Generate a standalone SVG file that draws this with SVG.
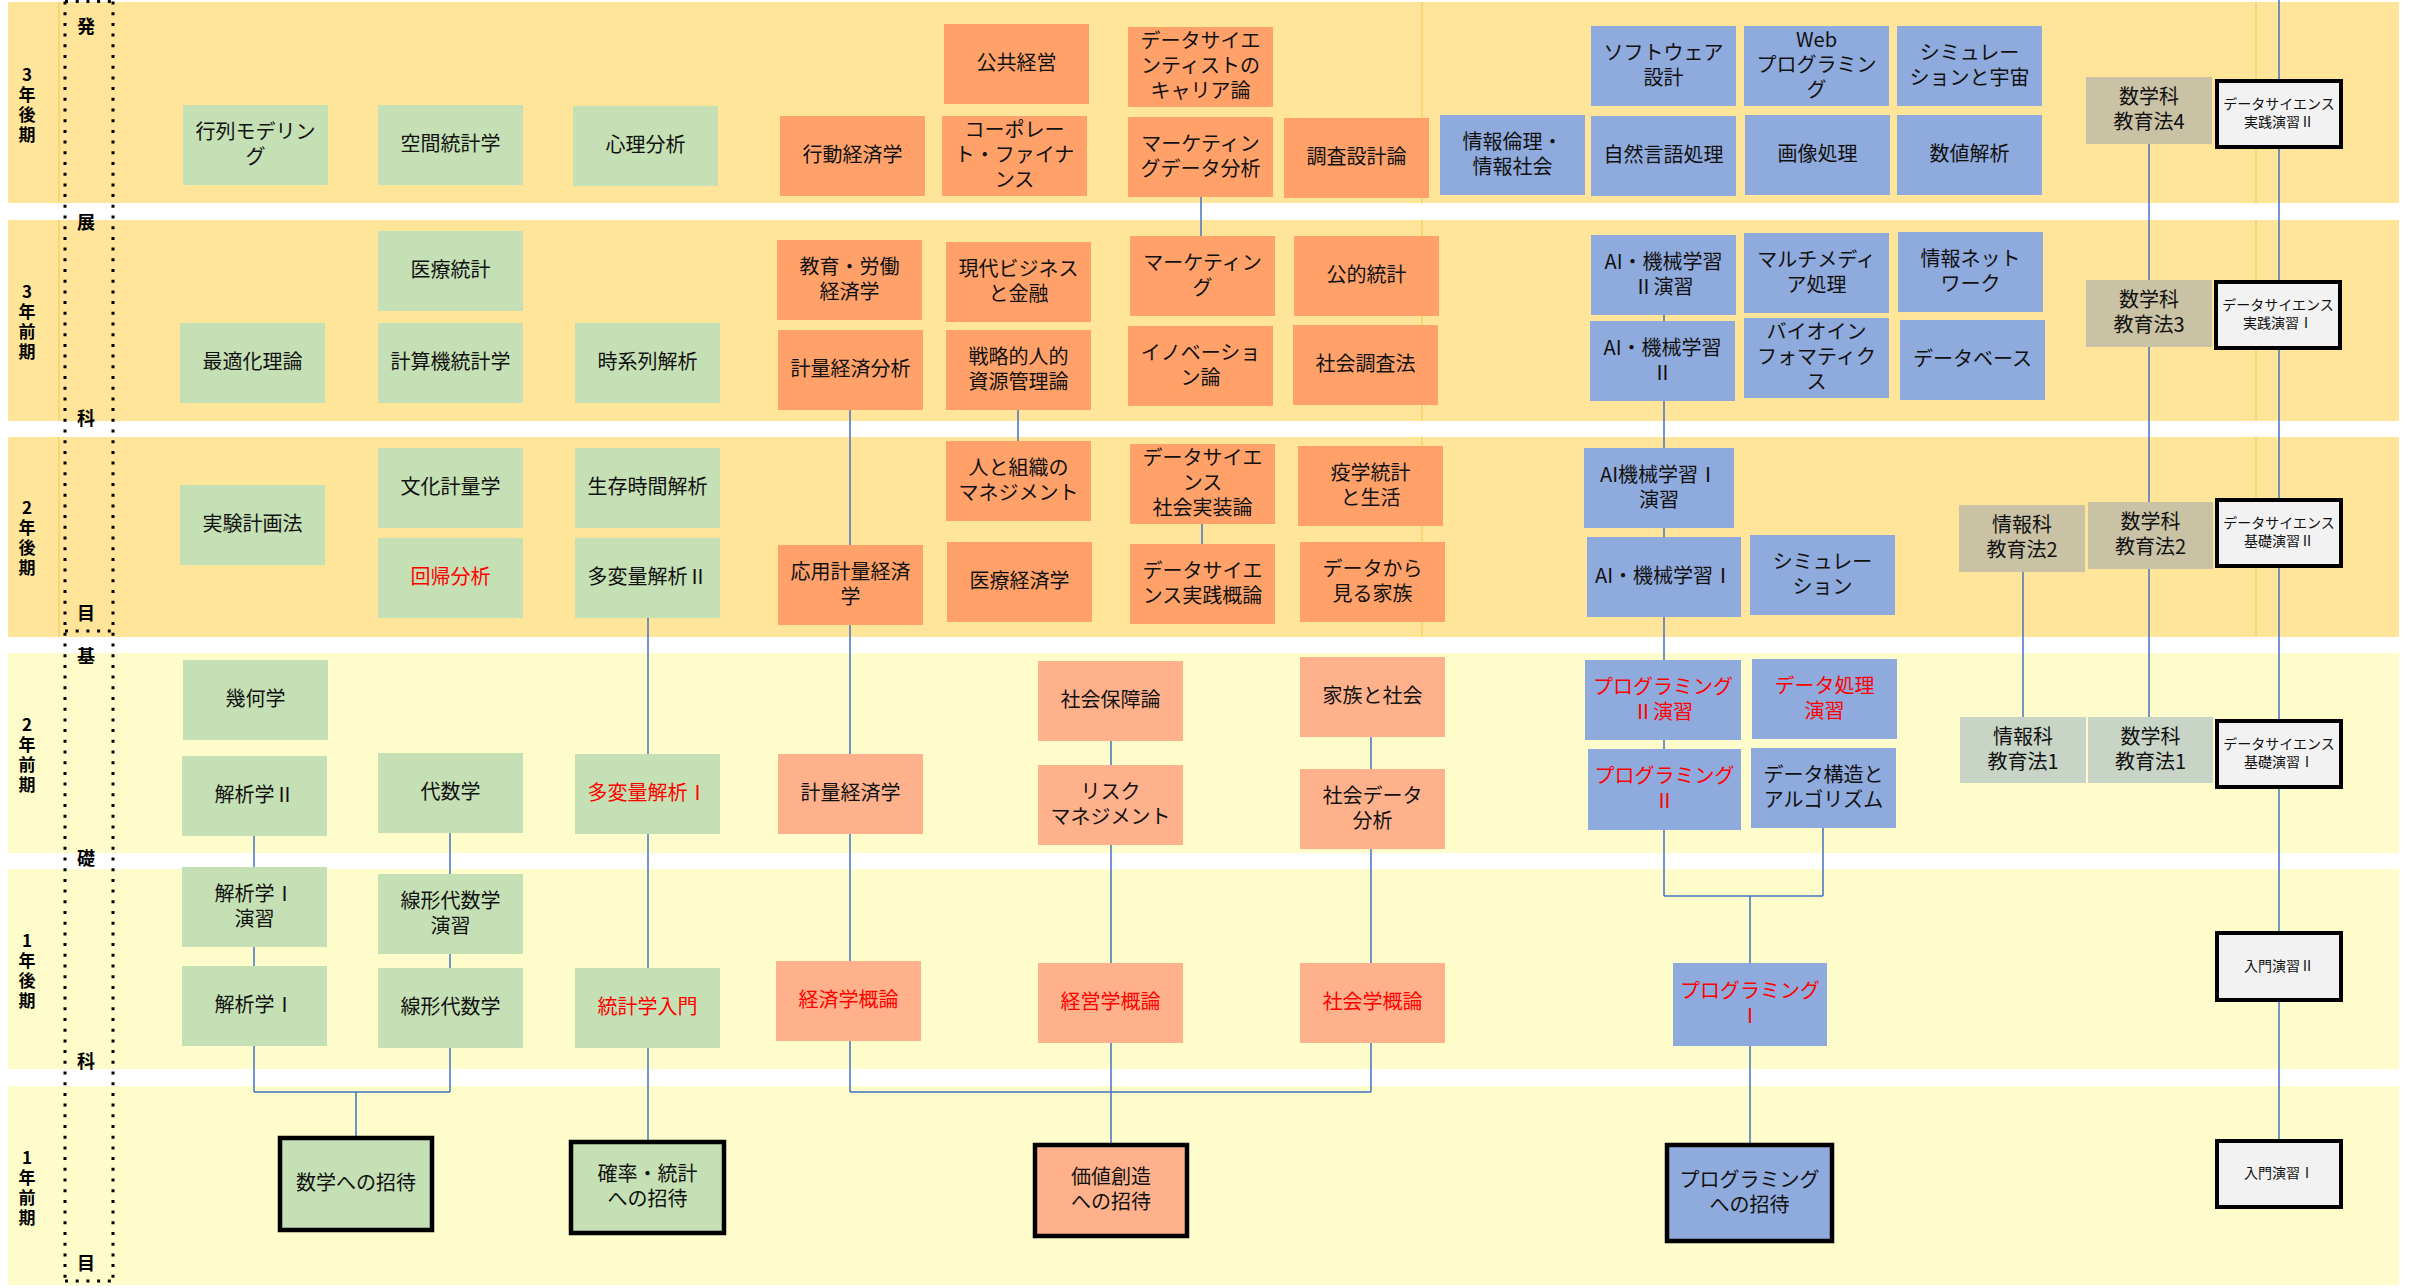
<svg xmlns="http://www.w3.org/2000/svg" width="2409" height="1288" viewBox="0 0 2409 1288">
<style>
.bu{fill:#FFE599}.bl{fill:#FFFCCB}
.fl{stroke:#F5CC5C;stroke-width:1.2}
.g{fill:#C5E0B4}.o{fill:#FFA169}.o2{fill:#FFB18C}.b{fill:#8FAADC}.t{fill:#C9C2A5}.t2{fill:#C8D4C6}
.ds{fill:#F2F2F2;stroke:#000;stroke-width:4}
.inv{stroke:#000;stroke-width:4.5}
text{font-family:"Noto Sans CJK JP","Noto Sans",sans-serif;dominant-baseline:central;text-anchor:middle}
.n{font-size:20px;fill:#111}
.r{fill:#FF0000}
.s{font-size:14px;fill:#111}
.yl{font-size:17px;font-weight:bold;fill:#000;writing-mode:vertical-rl;text-orientation:upright;letter-spacing:3px}
.cl{font-size:18px;font-weight:bold;fill:#000}
.dot{stroke:#000;stroke-width:3;stroke-dasharray:3 7.7;fill:none}
.c{stroke:#4472C4;stroke-width:1.5;fill:none}
</style>
<rect width="2409" height="1288" fill="#FFFFFF"/>
<g id="bands">
<rect class="bu" x="8" y="2" width="2391" height="201"/>
<rect class="bu" x="8" y="220" width="2391" height="201"/>
<rect class="bu" x="8" y="437" width="2391" height="200"/>
<rect class="bl" x="8" y="653" width="2391" height="200"/>
<rect class="bl" x="8" y="869" width="2391" height="200"/>
<rect class="bl" x="8" y="1086" width="2391" height="199"/>
<path class="fl" d="M59 2V203M59 220V421M59 437V637M1422 2V203M1422 220V421M1422 437V637M2256 2V203M2256 220V421M2256 437V637"/>
</g>
<g id="labels">
<text class="yl" x="27" y="106">3年後期</text>
<text class="yl" x="27" y="323">3年前期</text>
<text class="yl" x="27" y="539">2年後期</text>
<text class="yl" x="27" y="756">2年前期</text>
<text class="yl" x="27" y="972">1年後期</text>
<text class="yl" x="27" y="1189">1年前期</text>
<path class="dot" d="M65 1.5V1281M113 1.5V1281M65 1.5H113M65 631H113M65 1281H113"/>
<text class="cl" x="86" y="25">発</text><text class="cl" x="86" y="221">展</text><text class="cl" x="86" y="417">科</text><text class="cl" x="86" y="612">目</text>
<text class="cl" x="86" y="655">基</text><text class="cl" x="86" y="857">礎</text><text class="cl" x="86" y="1060">科</text><text class="cl" x="86" y="1262">目</text>
</g>
<g id="connectors">
<path class="c" d="M2279 0V1139"/>
<path class="c" d="M2149 144V717"/>
<path class="c" d="M2023 572V717"/>
<path class="c" d="M1664 315V896M1823 828V896M1664 896H1823M1750 896V1143"/>
<path class="c" d="M254 836V1092M450 833V1092M254 1092H450M356 1092V1136"/>
<path class="c" d="M648 618V1140"/>
<path class="c" d="M850 410V1092M1371 737V1092M850 1092H1371M1111 741V1143M1018 410V441"/>
<path class="c" d="M1201 197V236M1202 524V544"/>
</g>
<g id="nodes">
<g id="n1"><rect class="g" x="183" y="105" width="145" height="80"/><text class="n" x="255.5" y="142"><tspan x="255.5" dy="-12.5">行列モデリン</tspan><tspan x="255.5" dy="25">グ</tspan></text></g>
<g id="n2"><rect class="g" x="378" y="105" width="145" height="80"/><text class="n" x="450.5" y="142">空間統計学</text></g>
<g id="n3"><rect class="g" x="573" y="106" width="145" height="80"/><text class="n" x="645.5" y="143">心理分析</text></g>
<g id="n4"><rect class="g" x="378" y="231" width="145" height="80"/><text class="n" x="450.5" y="268">医療統計</text></g>
<g id="n5"><rect class="g" x="180" y="323" width="145" height="80"/><text class="n" x="252.5" y="360">最適化理論</text></g>
<g id="n6"><rect class="g" x="378" y="323" width="145" height="80"/><text class="n" x="450.5" y="360">計算機統計学</text></g>
<g id="n7"><rect class="g" x="575" y="323" width="145" height="80"/><text class="n" x="647.5" y="360">時系列解析</text></g>
<g id="n8"><rect class="g" x="180" y="485" width="145" height="80"/><text class="n" x="252.5" y="522">実験計画法</text></g>
<g id="n9"><rect class="g" x="378" y="448" width="145" height="80"/><text class="n" x="450.5" y="485">文化計量学</text></g>
<g id="n10"><rect class="g" x="575" y="448" width="145" height="80"/><text class="n" x="647.5" y="485">生存時間解析</text></g>
<g id="n11"><rect class="g" x="378" y="538" width="145" height="80"/><text class="n r" x="450.5" y="575">回帰分析</text></g>
<g id="n12"><rect class="g" x="575" y="538" width="145" height="80"/><text class="n" x="647.5" y="575">多変量解析Ⅱ</text></g>
<g id="n13"><rect class="g" x="183" y="660" width="145" height="80"/><text class="n" x="255.5" y="697">幾何学</text></g>
<g id="n14"><rect class="g" x="182" y="756" width="145" height="80"/><text class="n" x="254.5" y="793">解析学Ⅱ</text></g>
<g id="n15"><rect class="g" x="378" y="753" width="145" height="80"/><text class="n" x="450.5" y="790">代数学</text></g>
<g id="n16"><rect class="g" x="575" y="754" width="145" height="80"/><text class="n r" x="647.5" y="791">多変量解析Ⅰ</text></g>
<g id="n17"><rect class="g" x="182" y="867" width="145" height="80"/><text class="n" x="254.5" y="904"><tspan x="254.5" dy="-12.5">解析学Ⅰ</tspan><tspan x="254.5" dy="25">演習</tspan></text></g>
<g id="n18"><rect class="g" x="378" y="874" width="145" height="80"/><text class="n" x="450.5" y="911"><tspan x="450.5" dy="-12.5">線形代数学</tspan><tspan x="450.5" dy="25">演習</tspan></text></g>
<g id="n19"><rect class="g" x="182" y="966" width="145" height="80"/><text class="n" x="254.5" y="1003">解析学Ⅰ</text></g>
<g id="n20"><rect class="g" x="378" y="968" width="145" height="80"/><text class="n" x="450.5" y="1005">線形代数学</text></g>
<g id="n21"><rect class="g" x="575" y="968" width="145" height="80"/><text class="n r" x="647.5" y="1005">統計学入門</text></g>
<g id="n22"><rect class="g inv" x="280" y="1138" width="152" height="92"/><text class="n" x="356" y="1181">数学への招待</text></g>
<g id="n23"><rect class="g inv" x="571" y="1142" width="153" height="91"/><text class="n" x="647.5" y="1184.5"><tspan x="647.5" dy="-12.5">確率・統計</tspan><tspan x="647.5" dy="25">への招待</tspan></text></g>
<g id="n24"><rect class="o" x="944" y="24" width="145" height="80"/><text class="n" x="1016.5" y="61">公共経営</text></g>
<g id="n25"><rect class="o" x="1128" y="27" width="145" height="80"/><text class="n" x="1200.5" y="64"><tspan x="1200.5" dy="-25">データサイエ</tspan><tspan x="1200.5" dy="25">ンティストの</tspan><tspan x="1200.5" dy="25">キャリア論</tspan></text></g>
<g id="n26"><rect class="o" x="780" y="116" width="145" height="80"/><text class="n" x="852.5" y="153">行動経済学</text></g>
<g id="n27"><rect class="o" x="942" y="116" width="145" height="80"/><text class="n" x="1014.5" y="153"><tspan x="1014.5" dy="-25">コーポレー</tspan><tspan x="1014.5" dy="25">ト・ファイナ</tspan><tspan x="1014.5" dy="25">ンス</tspan></text></g>
<g id="n28"><rect class="o" x="1128" y="117" width="145" height="80"/><text class="n" x="1200.5" y="154"><tspan x="1200.5" dy="-12.5">マーケティン</tspan><tspan x="1200.5" dy="25">グデータ分析</tspan></text></g>
<g id="n29"><rect class="o" x="1284" y="118" width="145" height="80"/><text class="n" x="1356.5" y="155">調査設計論</text></g>
<g id="n30"><rect class="o" x="777" y="240" width="145" height="80"/><text class="n" x="849.5" y="277"><tspan x="849.5" dy="-12.5">教育・労働</tspan><tspan x="849.5" dy="25">経済学</tspan></text></g>
<g id="n31"><rect class="o" x="946" y="242" width="145" height="80"/><text class="n" x="1018.5" y="279"><tspan x="1018.5" dy="-12.5">現代ビジネス</tspan><tspan x="1018.5" dy="25">と金融</tspan></text></g>
<g id="n32"><rect class="o" x="1130" y="236" width="145" height="80"/><text class="n" x="1202.5" y="273"><tspan x="1202.5" dy="-12.5">マーケティン</tspan><tspan x="1202.5" dy="25">グ</tspan></text></g>
<g id="n33"><rect class="o" x="1294" y="236" width="145" height="80"/><text class="n" x="1366.5" y="273">公的統計</text></g>
<g id="n34"><rect class="o" x="778" y="330" width="145" height="80"/><text class="n" x="850.5" y="367">計量経済分析</text></g>
<g id="n35"><rect class="o" x="946" y="330" width="145" height="80"/><text class="n" x="1018.5" y="367"><tspan x="1018.5" dy="-12.5">戦略的人的</tspan><tspan x="1018.5" dy="25">資源管理論</tspan></text></g>
<g id="n36"><rect class="o" x="1128" y="326" width="145" height="80"/><text class="n" x="1200.5" y="363"><tspan x="1200.5" dy="-12.5">イノベーショ</tspan><tspan x="1200.5" dy="25">ン論</tspan></text></g>
<g id="n37"><rect class="o" x="1293" y="325" width="145" height="80"/><text class="n" x="1365.5" y="362">社会調査法</text></g>
<g id="n38"><rect class="o" x="946" y="441" width="145" height="80"/><text class="n" x="1018.5" y="478"><tspan x="1018.5" dy="-12.5">人と組織の</tspan><tspan x="1018.5" dy="25">マネジメント</tspan></text></g>
<g id="n39"><rect class="o" x="1130" y="444" width="145" height="80"/><text class="n" x="1202.5" y="481"><tspan x="1202.5" dy="-25">データサイエ</tspan><tspan x="1202.5" dy="25">ンス</tspan><tspan x="1202.5" dy="25">社会実装論</tspan></text></g>
<g id="n40"><rect class="o" x="1298" y="446" width="145" height="80"/><text class="n" x="1370.5" y="483"><tspan x="1370.5" dy="-12.5">疫学統計</tspan><tspan x="1370.5" dy="25">と生活</tspan></text></g>
<g id="n41"><rect class="o" x="778" y="545" width="145" height="80"/><text class="n" x="850.5" y="582"><tspan x="850.5" dy="-12.5">応用計量経済</tspan><tspan x="850.5" dy="25">学</tspan></text></g>
<g id="n42"><rect class="o" x="947" y="542" width="145" height="80"/><text class="n" x="1019.5" y="579">医療経済学</text></g>
<g id="n43"><rect class="o" x="1130" y="544" width="145" height="80"/><text class="n" x="1202.5" y="581"><tspan x="1202.5" dy="-12.5">データサイエ</tspan><tspan x="1202.5" dy="25">ンス実践概論</tspan></text></g>
<g id="n44"><rect class="o" x="1300" y="542" width="145" height="80"/><text class="n" x="1372.5" y="579"><tspan x="1372.5" dy="-12.5">データから</tspan><tspan x="1372.5" dy="25">見る家族</tspan></text></g>
<g id="n45"><rect class="o2" x="1038" y="661" width="145" height="80"/><text class="n" x="1110.5" y="698">社会保障論</text></g>
<g id="n46"><rect class="o2" x="1300" y="657" width="145" height="80"/><text class="n" x="1372.5" y="694">家族と社会</text></g>
<g id="n47"><rect class="o2" x="778" y="754" width="145" height="80"/><text class="n" x="850.5" y="791">計量経済学</text></g>
<g id="n48"><rect class="o2" x="1038" y="765" width="145" height="80"/><text class="n" x="1110.5" y="802"><tspan x="1110.5" dy="-12.5">リスク</tspan><tspan x="1110.5" dy="25">マネジメント</tspan></text></g>
<g id="n49"><rect class="o2" x="1300" y="769" width="145" height="80"/><text class="n" x="1372.5" y="806"><tspan x="1372.5" dy="-12.5">社会データ</tspan><tspan x="1372.5" dy="25">分析</tspan></text></g>
<g id="n50"><rect class="o2" x="776" y="961" width="145" height="80"/><text class="n r" x="848.5" y="998">経済学概論</text></g>
<g id="n51"><rect class="o2" x="1038" y="963" width="145" height="80"/><text class="n r" x="1110.5" y="1000">経営学概論</text></g>
<g id="n52"><rect class="o2" x="1300" y="963" width="145" height="80"/><text class="n r" x="1372.5" y="1000">社会学概論</text></g>
<g id="n53"><rect class="o2 inv" x="1035" y="1145" width="152" height="91"/><text class="n" x="1111" y="1187.5"><tspan x="1111" dy="-12.5">価値創造</tspan><tspan x="1111" dy="25">への招待</tspan></text></g>
<g id="n54"><rect class="b" x="1440" y="115" width="145" height="80"/><text class="n" x="1512.5" y="152"><tspan x="1512.5" dy="-12.5">情報倫理・</tspan><tspan x="1512.5" dy="25">情報社会</tspan></text></g>
<g id="n55"><rect class="b" x="1591" y="26" width="145" height="80"/><text class="n" x="1663.5" y="63"><tspan x="1663.5" dy="-12.5">ソフトウェア</tspan><tspan x="1663.5" dy="25">設計</tspan></text></g>
<g id="n56"><rect class="b" x="1744" y="26" width="145" height="80"/><text class="n" x="1816.5" y="63"><tspan x="1816.5" dy="-25">Web</tspan><tspan x="1816.5" dy="25">プログラミン</tspan><tspan x="1816.5" dy="25">グ</tspan></text></g>
<g id="n57"><rect class="b" x="1897" y="26" width="145" height="80"/><text class="n" x="1969.5" y="63"><tspan x="1969.5" dy="-12.5">シミュレー</tspan><tspan x="1969.5" dy="25">ションと宇宙</tspan></text></g>
<g id="n58"><rect class="b" x="1591" y="116" width="145" height="80"/><text class="n" x="1663.5" y="153">自然言語処理</text></g>
<g id="n59"><rect class="b" x="1745" y="115" width="145" height="80"/><text class="n" x="1817.5" y="152">画像処理</text></g>
<g id="n60"><rect class="b" x="1897" y="115" width="145" height="80"/><text class="n" x="1969.5" y="152">数値解析</text></g>
<g id="n61"><rect class="b" x="1591" y="235" width="145" height="80"/><text class="n" x="1663.5" y="272"><tspan x="1663.5" dy="-12.5">AI・機械学習</tspan><tspan x="1663.5" dy="25">Ⅱ演習</tspan></text></g>
<g id="n62"><rect class="b" x="1744" y="233" width="145" height="80"/><text class="n" x="1816.5" y="270"><tspan x="1816.5" dy="-12.5">マルチメディ</tspan><tspan x="1816.5" dy="25">ア処理</tspan></text></g>
<g id="n63"><rect class="b" x="1898" y="232" width="145" height="80"/><text class="n" x="1970.5" y="269"><tspan x="1970.5" dy="-12.5">情報ネット</tspan><tspan x="1970.5" dy="25">ワーク</tspan></text></g>
<g id="n64"><rect class="b" x="1590" y="321" width="145" height="80"/><text class="n" x="1662.5" y="358"><tspan x="1662.5" dy="-12.5">AI・機械学習</tspan><tspan x="1662.5" dy="25">Ⅱ</tspan></text></g>
<g id="n65"><rect class="b" x="1744" y="318" width="145" height="80"/><text class="n" x="1816.5" y="355"><tspan x="1816.5" dy="-25">バイオイン</tspan><tspan x="1816.5" dy="25">フォマティク</tspan><tspan x="1816.5" dy="25">ス</tspan></text></g>
<g id="n66"><rect class="b" x="1900" y="320" width="145" height="80"/><text class="n" x="1972.5" y="357">データベース</text></g>
<g id="n67"><rect class="b" x="1584" y="448" width="150" height="80"/><text class="n" x="1659" y="485"><tspan x="1659" dy="-12.5">AI機械学習Ⅰ</tspan><tspan x="1659" dy="25">演習</tspan></text></g>
<g id="n68"><rect class="b" x="1587" y="537" width="154" height="80"/><text class="n" x="1664" y="574">AI・機械学習Ⅰ</text></g>
<g id="n69"><rect class="b" x="1750" y="535" width="145" height="80"/><text class="n" x="1822.5" y="572"><tspan x="1822.5" dy="-12.5">シミュレー</tspan><tspan x="1822.5" dy="25">ション</tspan></text></g>
<g id="n70"><rect class="b" x="1585" y="660" width="156" height="80"/><text class="n r" x="1663" y="697"><tspan x="1663" dy="-12.5">プログラミング</tspan><tspan x="1663" dy="25">Ⅱ演習</tspan></text></g>
<g id="n71"><rect class="b" x="1752" y="659" width="145" height="80"/><text class="n r" x="1824.5" y="696"><tspan x="1824.5" dy="-12.5">データ処理</tspan><tspan x="1824.5" dy="25">演習</tspan></text></g>
<g id="n72"><rect class="b" x="1588" y="749" width="153" height="81"/><text class="n r" x="1664.5" y="786.5"><tspan x="1664.5" dy="-12.5">プログラミング</tspan><tspan x="1664.5" dy="25">Ⅱ</tspan></text></g>
<g id="n73"><rect class="b" x="1751" y="748" width="145" height="80"/><text class="n" x="1823.5" y="785"><tspan x="1823.5" dy="-12.5">データ構造と</tspan><tspan x="1823.5" dy="25">アルゴリズム</tspan></text></g>
<g id="n74"><rect class="b" x="1673" y="963" width="154" height="83"/><text class="n r" x="1750" y="1001.5"><tspan x="1750" dy="-12.5">プログラミング</tspan><tspan x="1750" dy="25">Ⅰ</tspan></text></g>
<g id="n75"><rect class="b inv" x="1667" y="1145" width="165" height="96"/><text class="n" x="1749.5" y="1190"><tspan x="1749.5" dy="-12.5">プログラミング</tspan><tspan x="1749.5" dy="25">への招待</tspan></text></g>
<g id="n76"><rect class="t" x="2086" y="77" width="126" height="67"/><text class="n" x="2149" y="107.5"><tspan x="2149" dy="-12.5">数学科</tspan><tspan x="2149" dy="25">教育法4</tspan></text></g>
<g id="n77"><rect class="t" x="2086" y="280" width="126" height="67"/><text class="n" x="2149" y="310.5"><tspan x="2149" dy="-12.5">数学科</tspan><tspan x="2149" dy="25">教育法3</tspan></text></g>
<g id="n78"><rect class="t" x="1959" y="505" width="126" height="67"/><text class="n" x="2022" y="535.5"><tspan x="2022" dy="-12.5">情報科</tspan><tspan x="2022" dy="25">教育法2</tspan></text></g>
<g id="n79"><rect class="t" x="2088" y="502" width="125" height="67"/><text class="n" x="2150.5" y="532.5"><tspan x="2150.5" dy="-12.5">数学科</tspan><tspan x="2150.5" dy="25">教育法2</tspan></text></g>
<g id="n80"><rect class="t2" x="1960" y="717" width="126" height="66"/><text class="n" x="2023" y="747"><tspan x="2023" dy="-12.5">情報科</tspan><tspan x="2023" dy="25">教育法1</tspan></text></g>
<g id="n81"><rect class="t2" x="2088" y="717" width="125" height="66"/><text class="n" x="2150.5" y="747"><tspan x="2150.5" dy="-12.5">数学科</tspan><tspan x="2150.5" dy="25">教育法1</tspan></text></g>
<g id="n82"><rect class="ds" x="2217" y="81" width="124" height="66"/><text class="s" x="2279" y="112"><tspan x="2279" dy="-9">データサイエンス</tspan><tspan x="2279" dy="18">実践演習Ⅱ</tspan></text></g>
<g id="n83"><rect class="ds" x="2216" y="282" width="124" height="66"/><text class="s" x="2278" y="313"><tspan x="2278" dy="-9">データサイエンス</tspan><tspan x="2278" dy="18">実践演習Ⅰ</tspan></text></g>
<g id="n84"><rect class="ds" x="2217" y="500" width="124" height="66"/><text class="s" x="2279" y="531"><tspan x="2279" dy="-9">データサイエンス</tspan><tspan x="2279" dy="18">基礎演習Ⅱ</tspan></text></g>
<g id="n85"><rect class="ds" x="2217" y="721" width="124" height="66"/><text class="s" x="2279" y="752"><tspan x="2279" dy="-9">データサイエンス</tspan><tspan x="2279" dy="18">基礎演習Ⅰ</tspan></text></g>
<g id="n86"><rect class="ds" x="2217" y="933" width="124" height="67"/><text class="s" x="2279" y="964.5">入門演習Ⅱ</text></g>
<g id="n87"><rect class="ds" x="2217" y="1141" width="124" height="66"/><text class="s" x="2279" y="1172">入門演習Ⅰ</text></g>
</g>
</svg>
